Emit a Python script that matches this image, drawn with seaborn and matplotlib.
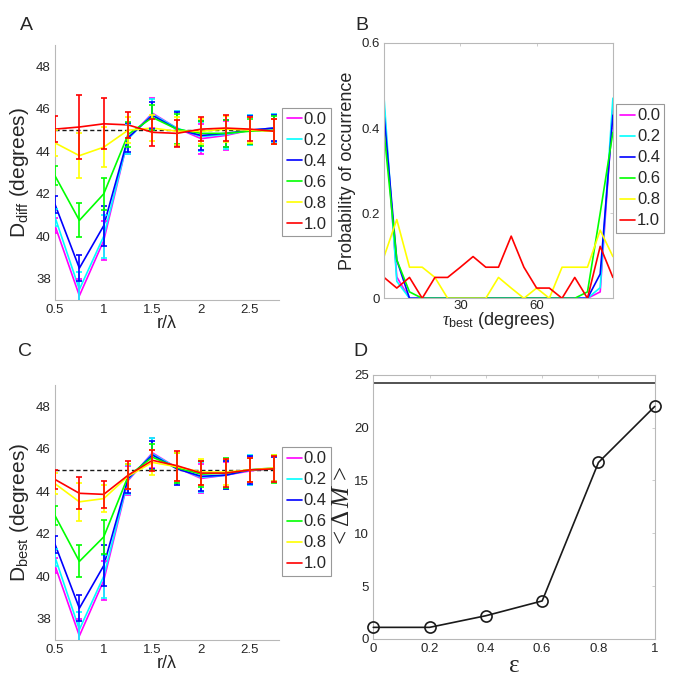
import pandas as pd
import matplotlib
matplotlib.use('Agg')
import matplotlib.pyplot as plt
import seaborn as sns
from matplotlib.ticker import FuncFormatter

# --- DATA ---
r_lambda = [0.5, 0.75, 1.0, 1.25, 1.5, 1.75, 2.0, 2.25, 2.5, 2.75]
eps_labels = ["0.0", "0.2", "0.4", "0.6", "0.8", "1.0"]
eps_colors = ["#ff00ff", "#00ffff", "#0000ff", "#00ff00", "#ffff00", "#ff0000"]
ref_angle = 45

# panel A: D_diff (degrees), mean and error per epsilon
d_diff_00 = [40.5, 37.2, 39.8, 44.6, 45.8, 45.1, 44.6, 44.75, 45.0, 45.1]
d_diff_02 = [40.9, 37.5, 40.0, 44.6, 45.75, 45.1, 44.7, 44.8, 45.0, 45.1]
d_diff_04 = [41.5, 38.5, 40.5, 44.65, 45.7, 45.05, 44.75, 44.85, 45.0, 45.1]
d_diff_06 = [42.85, 40.75, 42.0, 44.8, 45.6, 45.05, 44.85, 44.85, 44.95, 45.0]
d_diff_08 = [44.4, 43.8, 44.2, 45.0, 45.1, 44.95, 44.95, 45.05, 45.0, 44.95]
d_diff_10 = [45.05, 45.15, 45.3, 45.25, 44.9, 44.85, 45.05, 45.1, 45.05, 44.95]
d_diff_err_00 = [0.35, 0.8, 0.9, 0.7, 0.7, 0.8, 0.7, 0.7, 0.7, 0.65]
d_diff_err_02 = [0.4, 0.8, 1.0, 0.7, 0.7, 0.8, 0.7, 0.7, 0.7, 0.65]
d_diff_err_04 = [0.4, 0.6, 0.95, 0.7, 0.65, 0.8, 0.7, 0.65, 0.65, 0.6]
d_diff_err_06 = [0.45, 0.8, 0.75, 0.6, 0.6, 0.7, 0.6, 0.65, 0.6, 0.65]
d_diff_err_08 = [0.6, 1.05, 0.95, 0.6, 0.6, 0.65, 0.6, 0.6, 0.6, 0.6]
d_diff_err_10 = [0.6, 1.5, 1.2, 0.6, 0.65, 0.65, 0.55, 0.6, 0.55, 0.6]

# panel C: D_best (degrees)
d_best_00 = [40.5, 37.2, 39.8, 44.5, 45.8, 45.1, 44.6, 44.75, 44.95, 45.1]
d_best_02 = [40.9, 37.5, 40.0, 44.55, 45.75, 45.1, 44.65, 44.75, 45.0, 45.1]
d_best_04 = [41.5, 38.5, 40.5, 44.6, 45.7, 45.05, 44.7, 44.75, 45.0, 45.05]
d_best_06 = [42.85, 40.7, 41.85, 44.7, 45.6, 45.1, 44.8, 44.85, 45.0, 45.05]
d_best_08 = [44.35, 43.5, 43.65, 44.7, 45.35, 45.15, 44.9, 44.9, 45.0, 45.1]
d_best_10 = [44.55, 43.9, 43.85, 44.75, 45.45, 45.2, 44.85, 44.85, 45.0, 45.05]
d_best_err_00 = [0.35, 0.8, 0.9, 0.7, 0.7, 0.7, 0.7, 0.6, 0.65, 0.6]
d_best_err_02 = [0.4, 0.8, 1.0, 0.7, 0.75, 0.7, 0.7, 0.65, 0.7, 0.6]
d_best_err_04 = [0.4, 0.6, 0.95, 0.7, 0.65, 0.75, 0.7, 0.65, 0.65, 0.55]
d_best_err_06 = [0.45, 0.75, 0.8, 0.6, 0.6, 0.7, 0.6, 0.7, 0.55, 0.65]
d_best_err_08 = [0.5, 0.9, 0.65, 0.6, 0.6, 0.65, 0.6, 0.6, 0.55, 0.6]
d_best_err_10 = [0.45, 0.75, 0.65, 0.65, 0.5, 0.7, 0.55, 0.65, 0.55, 0.6]

# panel B: distribution of tau_best
tau_best = [0, 5, 10, 15, 20, 25, 30, 35, 40, 45, 50, 55, 60, 65, 70, 75, 80, 85, 90]
p_tau_00 = [0.45, 0.05, 0, 0, 0, 0, 0, 0, 0, 0, 0, 0, 0, 0, 0, 0, 0, 0.015, 0.45]
p_tau_02 = [0.47, 0.04, 0, 0, 0, 0, 0, 0, 0, 0, 0, 0, 0, 0, 0, 0, 0, 0.025, 0.47]
p_tau_04 = [0.43, 0.09, 0, 0, 0, 0, 0, 0, 0, 0, 0, 0, 0, 0, 0, 0, 0, 0.057, 0.43]
p_tau_06 = [0.39, 0.09, 0.015, 0, 0, 0, 0, 0, 0, 0, 0, 0, 0, 0, 0, 0, 0.015, 0.2, 0.39]
p_tau_08 = [0.098, 0.185, 0.073, 0.073, 0.049, 0, 0, 0, 0, 0.049, 0.024, 0, 0.024, 0,
            0.073, 0.073, 0.073, 0.16, 0.098]
p_tau_10 = [0.049, 0.024, 0.049, 0, 0.049, 0.049, 0.073, 0.098, 0.073, 0.073, 0.146,
            0.073, 0.024, 0.024, 0, 0.049, 0, 0.122, 0.049]

# panel D: <Delta M> vs epsilon
eps = [0, 0.2, 0.4, 0.6, 0.8, 1.0]
delta_m = [1.1, 1.1, 2.2, 3.6, 16.7, 22.0]
delta_m_max = 24.2

SPINE = "#b8b8b8"
FONT = ["Liberation Sans", "DejaVu Sans"]


def long_frame(x, series, xname, yname):
    rows = []
    for lab, ys in zip(eps_labels, series):
        for xv, yv in zip(x, ys):
            rows.append({xname: xv, yname: yv, "eps": lab})
    return pd.DataFrame(rows)


def g_fmt(v, pos):
    return "%g" % v


def style_ax(ax, box=False):
    for side in ["top", "right"]:
        ax.spines[side].set_visible(box)
    for s in ax.spines.values():
        s.set_color(SPINE)
        s.set_linewidth(0.8)
    ax.tick_params(direction="in", length=2, width=0.5, color=SPINE,
                   labelsize=9.5, pad=3, top=box, right=box)


def add_legend(ax, top_y):
    h, l = ax.get_legend_handles_labels()
    leg = ax.legend(h, l, loc="upper left", bbox_to_anchor=(1.015, top_y),
                    fontsize=12, handlelength=0.9, handletextpad=0.1,
                    labelspacing=0.36, borderpad=0.25, borderaxespad=0,
                    fancybox=False, framealpha=1)
    leg.get_frame().set_edgecolor("#999999")
    leg.get_frame().set_linewidth(0.8)


def draw_d_panel(ax, means, errs, ylabel):
    df = long_frame(r_lambda, means, "r", "d")
    ax.hlines(ref_angle, r_lambda[0], r_lambda[-1], colors="k",
              linestyles=(0, (3, 2)), linewidth=1.0, zorder=1.5)
    sns.lineplot(data=df, x="r", y="d", hue="eps", hue_order=eps_labels,
                 palette=eps_colors, linewidth=1.2, ax=ax, zorder=3)
    for i, (m, e) in enumerate(zip(means, errs)):
        ax.errorbar(r_lambda, m, yerr=e, fmt="none", ecolor=eps_colors[i],
                    elinewidth=1.2, capsize=2.2, capthick=1.2, zorder=3 + i * 0.1)
    ax.set_xlim(0.5, 2.8)
    ax.set_ylim(37, 49)
    ax.set_xticks([0.5, 1, 1.5, 2, 2.5])
    ax.set_yticks([38, 40, 42, 44, 46, 48])
    ax.xaxis.set_major_formatter(FuncFormatter(g_fmt))
    ax.set_xlabel("r/λ", fontsize=13, labelpad=-1)
    ax.set_ylabel(ylabel, fontsize=15, labelpad=4)
    style_ax(ax, box=False)
    add_legend(ax, 0.755)


sns.set_theme(style="white")
plt.rcParams["font.family"] = FONT
plt.rcParams["mathtext.fontset"] = "custom"
plt.rcParams["mathtext.rm"] = "Liberation Sans"
plt.rcParams["mathtext.sf"] = "Liberation Serif"
plt.rcParams["mathtext.it"] = "Liberation Serif:italic"

fig = plt.figure(figsize=(6.75, 6.81), dpi=100)
ax_a = fig.add_axes([0.0815, 0.5595, 0.332, 0.374])
ax_b = fig.add_axes([0.569, 0.562, 0.339, 0.375])
ax_c = fig.add_axes([0.0815, 0.060, 0.332, 0.375])
ax_d = fig.add_axes([0.553, 0.0617, 0.417, 0.388])

# A
draw_d_panel(ax_a, [d_diff_00, d_diff_02, d_diff_04, d_diff_06, d_diff_08, d_diff_10],
             [d_diff_err_00, d_diff_err_02, d_diff_err_04, d_diff_err_06,
              d_diff_err_08, d_diff_err_10],
             r"D$_{\rm diff}$ (degrees)")

# C
draw_d_panel(ax_c, [d_best_00, d_best_02, d_best_04, d_best_06, d_best_08, d_best_10],
             [d_best_err_00, d_best_err_02, d_best_err_04, d_best_err_06,
              d_best_err_08, d_best_err_10],
             r"D$_{\rm best}$ (degrees)")

# B
df_b = long_frame(tau_best, [p_tau_00, p_tau_02, p_tau_04, p_tau_06, p_tau_08, p_tau_10],
                  "tau", "p")
sns.lineplot(data=df_b, x="tau", y="p", hue="eps", hue_order=eps_labels,
             palette=eps_colors, linewidth=1.2, ax=ax_b)
ax_b.set_xlim(0, 90)
ax_b.set_ylim(0, 0.6)
ax_b.set_xticks([30, 60])
ax_b.set_yticks([0, 0.2, 0.4, 0.6])
ax_b.yaxis.set_major_formatter(FuncFormatter(g_fmt))
ax_b.set_xlabel(r"$\tau_{\rm best}$ (degrees)", fontsize=13, labelpad=-1)
ax_b.set_ylabel("Probability of occurrence", fontsize=13, labelpad=4)
style_ax(ax_b, box=True)
ax_b.tick_params(axis="x", pad=1)
add_legend(ax_b, 0.76)

# D
sns.lineplot(x=eps, y=delta_m, color="k", linewidth=1.2, marker="o",
             markersize=8, markerfacecolor="none", markeredgecolor="k",
             markeredgewidth=1.2, ax=ax_d, clip_on=False, zorder=5)
ax_d.axhline(delta_m_max, color="#444444", linewidth=1.3)
ax_d.set_xlim(0, 1)
ax_d.set_ylim(0, 25)
ax_d.set_xticks(eps)
ax_d.set_yticks([0, 5, 10, 15, 20, 25])
ax_d.xaxis.set_major_formatter(FuncFormatter(g_fmt))
ax_d.set_xlabel("ε", fontsize=18, family="Liberation Serif", labelpad=0)
ax_d.set_ylabel(r"$\mathsf{<\Delta}\,M\,\mathsf{>}$", fontsize=18, labelpad=0)
style_ax(ax_d, box=True)

# panel letters
for lab, x, y in [("A", 0.03, 0.975), ("B", 0.526, 0.975),
                  ("C", 0.026, 0.496), ("D", 0.523, 0.497)]:
    fig.text(x, y, lab, fontsize=14, ha="left", va="top")

fig.savefig("out.png", dpi=100)
